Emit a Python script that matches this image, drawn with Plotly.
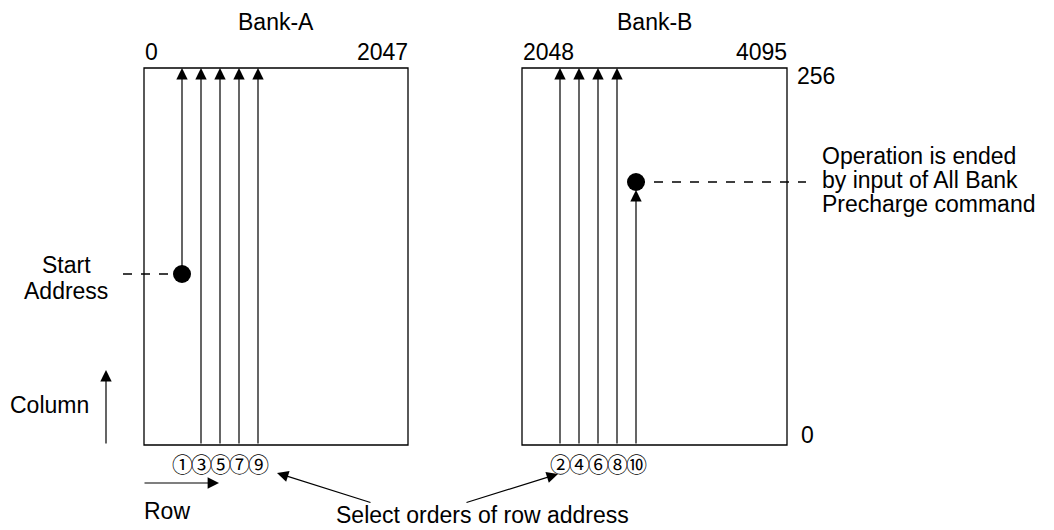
import plotly.graph_objects as go

# ---- data (diagram content) ----
bank_names = ["Bank-A", "Bank-B"]
bank_first_row = ["0", "2048"]
bank_last_row = ["2047", "4095"]
column_top_label = "256"
column_bottom_label = "0"
select_order_A = ["①", "③", "⑤", "⑦", "⑨"]
select_order_B = ["②", "④", "⑥", "⑧", "⑩"]
start_label = ["Start", "Address"]
end_label = ["Operation is ended", "by input of All Bank", "Precharge command"]
row_label = "Row"
column_label = "Column"
select_label = "Select orders of row address"

# ---- layout geometry (page pixels) ----
W, H = 1054, 530
OFF = 8  # default page body margin
box_x = [(144, 408), (522, 787)]
box_top, box_bot = 68, 445
line_x = [[182, 201, 220, 239, 258], [560, 579, 598, 617, 636]]
start_y = 274
end_y = 182
FONT = "Arial, Liberation Sans, sans-serif"
CIRC_FONT = "Noto Sans CJK JP, DejaVu Sans, sans-serif"
FS = 23
LW = 1.3

fig = go.Figure()
shapes = []
ann = []

def text(x, y, s, xanchor="center", size=FS, font=FONT):
    ann.append(dict(x=x, y=y, xref="x", yref="y", text=s, showarrow=False,
                    xanchor=xanchor, yanchor="middle",
                    font=dict(family=font, size=size, color="black")))

def arrow(x0, y0, x1, y1):
    ann.append(dict(x=x1, y=y1, ax=x0, ay=y0, xref="x", yref="y", axref="x", ayref="y",
                    text="", showarrow=True, arrowhead=2, arrowsize=1.9,
                    arrowwidth=1.2, arrowcolor="black", standoff=0, startstandoff=0))

for i, (x0, x1) in enumerate(box_x):
    shapes.append(dict(type="rect", x0=x0, x1=x1, y0=box_top, y1=box_bot, xref="x", yref="y",
                       line=dict(color="black", width=LW), fillcolor="rgba(0,0,0,0)"))
    text((x0 + x1) / 2, 22, bank_names[i])
    text(x0 - 1, 52, bank_first_row[i], xanchor="left")
    text(x1 + 2, 52, bank_last_row[i], xanchor="right")

text(795, 76, column_top_label, xanchor="left")
text(799, 435, column_bottom_label, xanchor="left")

# Bank-A lines
for k, x in enumerate(line_x[0]):
    y0 = start_y if k == 0 else box_bot
    arrow(x, y0, x, box_top)
# Bank-B lines
for k, x in enumerate(line_x[1]):
    if k < 4:
        arrow(x, box_bot, x, box_top)
    else:
        arrow(x, box_bot, x, end_y + 8)

# circled select orders
for x, s in zip(line_x[0], select_order_A):
    text(x, 463, s, size=21, font=CIRC_FONT)
for x, s in zip(line_x[1], select_order_B):
    text(x, 463, s, size=21, font=CIRC_FONT)

# dashed leaders
shapes.append(dict(type="line", x0=123, x1=line_x[0][0], y0=start_y, y1=start_y, xref="x", yref="y",
                   line=dict(color="black", width=LW, dash="dash")))
shapes.append(dict(type="line", x0=line_x[1][4], x1=806, y0=end_y, y1=end_y, xref="x", yref="y",
                   line=dict(color="black", width=LW, dash="dash")))

# dots
fig.add_trace(go.Scatter(x=[line_x[0][0], line_x[1][4]], y=[start_y, end_y], mode="markers",
                         marker=dict(size=18, color="black"), hoverinfo="skip", showlegend=False))

# labels
text(66, 265, start_label[0])
text(66, 291, start_label[1])
for j, s in enumerate(end_label):
    text(820, 156 + j * 24, s, xanchor="left")

text(8, 405, column_label, xanchor="left")
arrow(106, 445, 106, 370)
arrow(143, 483, 219, 483)
text(142, 511, row_label, xanchor="left")

text(482, 515, select_label)
arrow(372, 503, 277, 473)
arrow(465, 503, 558, 474)

fig.update_layout(
    width=W - OFF, height=H - OFF, margin=dict(l=0, r=0, t=0, b=0),
    paper_bgcolor="white", plot_bgcolor="white",
    xaxis=dict(range=[OFF, W], visible=False, fixedrange=True),
    yaxis=dict(range=[H, OFF], visible=False, fixedrange=True),
    shapes=shapes, annotations=ann, showlegend=False,
)
fig.write_html("out.html")
